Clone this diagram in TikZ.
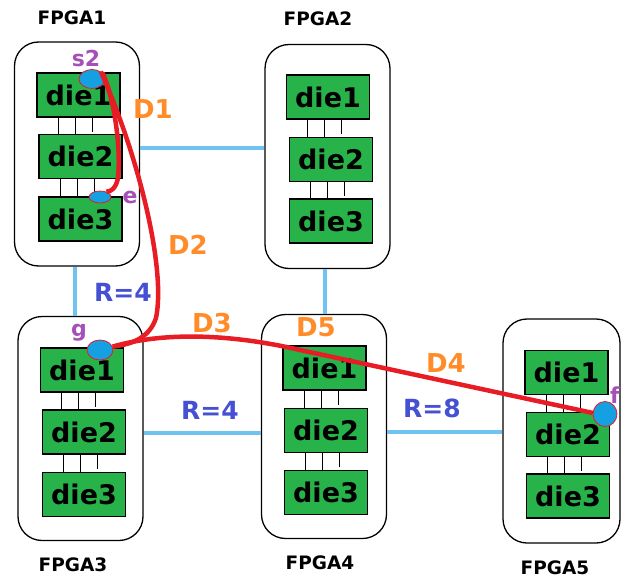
\documentclass[tikz,border=0pt]{standalone}
\usepackage{fontspec}
\setmainfont{DejaVu Sans}
\usetikzlibrary{calc,shapes.geometric}
\definecolor{diegreen}{RGB}{40,178,74}
\definecolor{linkblue}{RGB}{110,195,240}
\definecolor{redline}{RGB}{232,28,36}
\definecolor{dotblue}{RGB}{20,160,225}
\definecolor{lblorange}{RGB}{255,140,40}
\definecolor{lblpurple}{RGB}{165,80,185}
\definecolor{lblblue}{RGB}{70,80,210}
\newcommand{\dlinks}[2]{%
  \draw[dline] let \p1=(#1.south west), \p2=(#2.north) in (\x1+22pt,\y1) -- (\x1+22pt,\y2);
  \draw[dline] let \p1=(#1.south west), \p2=(#2.north) in (\x1+39pt,\y1) -- (\x1+39pt,\y2);
  \draw[dline] let \p1=(#1.south west) in (\x1+56pt,\y1) -- (\x1+56pt,\y1-14pt);
}
\begin{document}
\begin{tikzpicture}[x=1pt,y=-1pt,
  fpga/.style={draw=black, line width=1.3pt, rounded corners=24pt, minimum width=125pt, minimum height=224pt, inner sep=0pt},
  die/.style={draw=black, line width=1.3pt, fill=diegreen, minimum width=83pt, minimum height=44pt, inner sep=0pt, font=\bfseries\fontsize{27}{27}\selectfont},
  dline/.style={draw=black, line width=1.1pt},
  link/.style={draw=linkblue, line width=4pt},
  redc/.style={draw=redline, line width=4.5pt},
  dot/.style={ellipse, draw=redline, line width=0.8pt, fill=dotblue, inner sep=0pt},
  ftitle/.style={font=\bfseries\fontsize{18.5}{18.5}\selectfont, text=black, inner sep=0pt},
  dlab/.style={font=\bfseries\fontsize{26}{26}\selectfont, text=lblorange, inner sep=0pt},
  rlab/.style={font=\bfseries\fontsize{25}{25}\selectfont, text=lblblue, inner sep=0pt},
  plab/.style={font=\bfseries\fontsize{22}{22}\selectfont, text=lblpurple, inner sep=0pt}
]
\useasboundingbox (0,0) rectangle (621,578);
% FPGA boxes
\node[fpga] (f1) at (77,154) {};
\node[fpga] (f2) at (327.5,156.5) {};
\node[fpga] (f3) at (80.5,428.5) {};
\node[fpga] (f4) at (324,426.5) {};
\node[fpga, minimum width=117pt] (f5) at (561.5,431) {};
% titles
\node[ftitle] (t1) at (72,18) {FPGA1};
\node[ftitle] (t2) at (318,19) {FPGA2};
\node[ftitle] (t3) at (73,565) {FPGA3};
\node[ftitle] (t4) at (320,563) {FPGA4};
\node[ftitle] (t5) at (555,568) {FPGA5};
% dies
\node[die] (f1d1) at (78.5,95) {die1};
\node[die] (f1d2) at (80.5,156.5) {die2};
\node[die] (f1d3) at (80.5,219) {die3};
\node[die] (f2d1) at (328,97) {die1};
\node[die] (f2d2) at (331,159.5) {die2};
\node[die] (f2d3) at (331,221) {die3};
\node[die] (f3d1) at (82,370) {die1};
\node[die] (f3d2) at (84,432) {die2};
\node[die] (f3d3) at (84,494.5) {die3};
\node[die] (f4d1) at (324.5,368) {die1};
\node[die] (f4d2) at (326,430.5) {die2};
\node[die] (f4d3) at (326,492.5) {die3};
\node[die] (f5d1) at (566.5,372.5) {die1};
\node[die] (f5d2) at (568,434.5) {die2};
\node[die] (f5d3) at (568,496) {die3};
% die interconnects
\dlinks{f1d1}{f1d2}\dlinks{f1d2}{f1d3}
\dlinks{f2d1}{f2d2}\dlinks{f2d2}{f2d3}
\dlinks{f3d1}{f3d2}\dlinks{f3d2}{f3d3}
\dlinks{f4d1}{f4d2}\dlinks{f4d2}{f4d3}
\dlinks{f5d1}{f5d2}\dlinks{f5d2}{f5d3}
% FPGA links
\draw[link] (f1.east |- 0,148) -- (f2.west |- 0,148);
\draw[link] (f1.south -| 75,0) -- (f3.north -| 75,0);
\draw[link] (f2.south -| 325,0) -- (f4.north -| 325,0);
\draw[link] (f3.east |- 0,433) -- (f4.west |- 0,433);
\draw[link] (f4.east |- 0,432) -- (f5.west |- 0,432);
% dots
\node[dot, minimum width=26pt, minimum height=19pt] (s2dot) at (92,79) {};
\node[dot, minimum width=22pt, minimum height=12pt] (edot) at (100,197) {};
\node[dot, minimum width=26pt, minimum height=20pt] (gdot) at (100,350) {};
% red paths
\draw[redc] (s2dot.30) .. controls (115,100) and (121,150) .. (118,178) .. controls (116,188) and (111,192) .. (edot.40);
\draw[redc] (s2dot.40) .. controls (140,160) and (166,270) .. (156,318) .. controls (150,336) and (135,344) .. (gdot.15);
\node[dot, minimum width=24pt, minimum height=25pt] (fdot) at (605,414) {};
\draw[redc] (gdot.15) .. controls (170,330) and (240,336) .. (300,350) -- (fdot.175);
% labels
\node[plab] (ls2) at (86,58) {s2};
\node[plab] (le) at (130,197) {e};
\node[plab] (lg) at (79,333) {g};
\node[plab] (lf) at (615,395) {f};
\node[dlab] (ld1) at (153,109) {D1};
\node[dlab] (ld2) at (188,245) {D2};
\node[dlab] (ld3) at (212,323) {D3};
\node[dlab] (ld4) at (446,363) {D4};
\node[dlab] (ld5) at (316,327) {D5};
\node[rlab] (lr1) at (123,292) {R=4};
\node[rlab] (lr2) at (210,410) {R=4};
\node[rlab] (lr3) at (432,408) {R=8};
\end{tikzpicture}
\end{document}
